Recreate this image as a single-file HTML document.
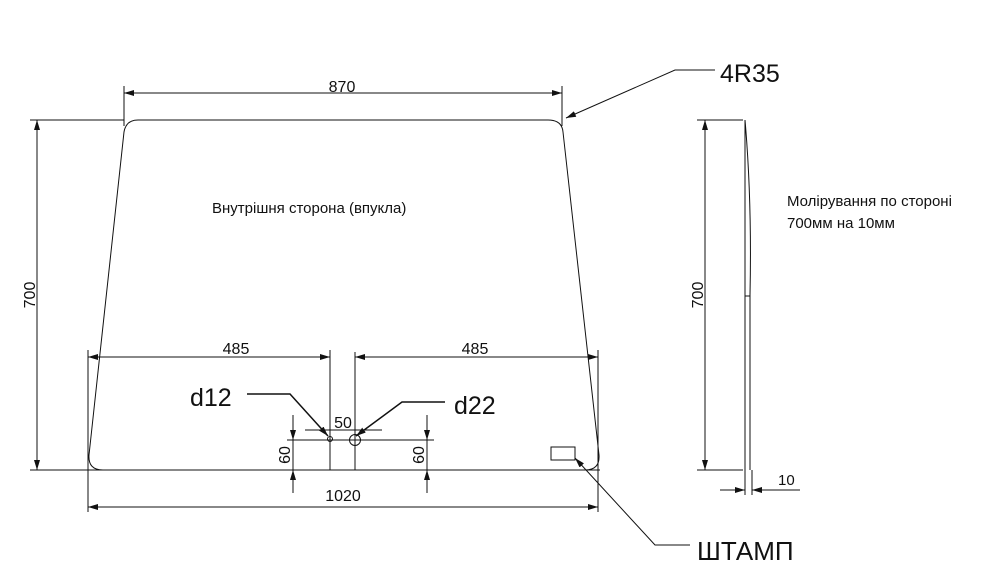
<!DOCTYPE html>
<html><head><meta charset="utf-8"><style>body{margin:0;background:#fff}svg{display:block}text{font-family:"Liberation Sans",sans-serif;fill:#111}</style></head><body>
<svg width="1000" height="580" viewBox="0 0 1000 580" xmlns="http://www.w3.org/2000/svg">
<defs>
<marker id="a" viewBox="0 0 10 6" refX="10" refY="3" markerWidth="10" markerHeight="6" orient="auto-start-reverse" markerUnits="userSpaceOnUse"><path d="M0,0L10,3L0,6z" fill="#111"/></marker>
</defs>
<g stroke="#111" stroke-width="1" fill="none">
<path d="M138,120 L548,120 Q562,120 563,132 L599,455 Q600,470 585,470 L103,470 Q88,470 89,455 L124,132 Q126,120 138,120 Z"/>
<line x1="30" y1="120" x2="124" y2="120"/>
<line x1="30" y1="470" x2="88" y2="470"/>
<line x1="37" y1="120" x2="37" y2="470" marker-start="url(#a)" marker-end="url(#a)"/>
<line x1="124" y1="86" x2="124" y2="126"/>
<line x1="562" y1="86" x2="562" y2="126"/>
<line x1="124" y1="93" x2="562" y2="93" marker-start="url(#a)" marker-end="url(#a)"/>
<polyline points="566,118 675,70 715,70" marker-start="url(#a)"/>
<line x1="88" y1="350" x2="88" y2="512"/>
<line x1="598" y1="350" x2="598" y2="512"/>
<line x1="330" y1="350" x2="330" y2="470"/>
<line x1="355" y1="352" x2="355" y2="470"/>
<line x1="88" y1="357" x2="330" y2="357" marker-start="url(#a)" marker-end="url(#a)"/>
<line x1="355" y1="357" x2="598" y2="357" marker-start="url(#a)" marker-end="url(#a)"/>
<polyline points="247,394 290,394 328,436" marker-end="url(#a)" stroke-width="1.5"/>
<polyline points="445,402 402,402 356,436" marker-end="url(#a)" stroke-width="1.5"/>
<circle cx="330" cy="439" r="2.5"/>
<circle cx="355" cy="440" r="5.5"/>
<line x1="305" y1="430" x2="382" y2="430"/>
<line x1="287" y1="440" x2="434" y2="440"/>
<line x1="293" y1="415" x2="293" y2="493"/>
<line x1="293" y1="415" x2="293" y2="440" marker-end="url(#a)"/>
<line x1="293" y1="493" x2="293" y2="470" marker-end="url(#a)"/>
<line x1="427" y1="415" x2="427" y2="493"/>
<line x1="427" y1="415" x2="427" y2="440" marker-end="url(#a)"/>
<line x1="427" y1="493" x2="427" y2="470" marker-end="url(#a)"/>
<line x1="30" y1="470" x2="600" y2="470"/>
<line x1="88" y1="507" x2="598" y2="507" marker-start="url(#a)" marker-end="url(#a)"/>
<rect x="551" y="447" width="24" height="13"/>
<polyline points="575,458 655,545 690,545" marker-start="url(#a)"/>
<line x1="697" y1="120" x2="743" y2="120"/>
<line x1="697" y1="470" x2="743" y2="470"/>
<line x1="705" y1="120" x2="705" y2="470" marker-start="url(#a)" marker-end="url(#a)"/>
<path d="M745,120 Q752,200 750,295 L750,470"/>
<path d="M745,120 L745,495"/>
<line x1="745" y1="296" x2="750" y2="296"/>
<line x1="752" y1="470" x2="752" y2="495"/>
<line x1="720" y1="490" x2="745" y2="490" marker-end="url(#a)"/>
<line x1="800" y1="490" x2="752" y2="490" marker-end="url(#a)"/>
</g>
<text x="342" y="92" font-size="16" text-anchor="middle">870</text>
<text x="720" y="82" font-size="25">4R35</text>
<text x="212" y="213" font-size="15">Внутрішня сторона (впукла)</text>
<text transform="translate(35,295) rotate(-90)" font-size="16" text-anchor="middle">700</text>
<text x="236" y="354" font-size="16" text-anchor="middle">485</text>
<text x="475" y="354" font-size="16" text-anchor="middle">485</text>
<text x="190" y="406" font-size="25">d12</text>
<text x="454" y="414" font-size="25">d22</text>
<text x="343" y="428" font-size="16" text-anchor="middle">50</text>
<text transform="translate(290,455) rotate(-90)" font-size="16" text-anchor="middle">60</text>
<text transform="translate(424,455) rotate(-90)" font-size="16" text-anchor="middle">60</text>
<text x="343" y="501" font-size="16" text-anchor="middle">1020</text>
<text x="697" y="560" font-size="26">ШТАМП</text>
<text transform="translate(703,295) rotate(-90)" font-size="16" text-anchor="middle">700</text>
<text x="787" y="206" font-size="15">Молірування по стороні</text>
<text x="787" y="228" font-size="15">700мм на 10мм</text>
<text x="778" y="485" font-size="15">10</text>
</svg>
</body></html>
